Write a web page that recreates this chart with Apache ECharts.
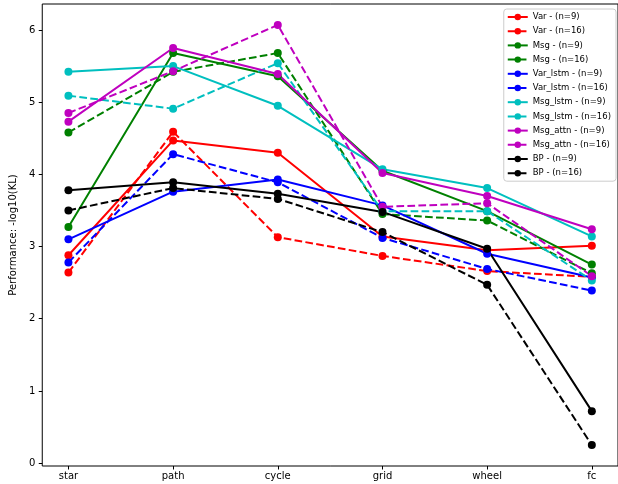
<!DOCTYPE html>
<html>
<head>
<meta charset="utf-8">
<script src="https://cdn.jsdelivr.net/npm/echarts@6/dist/echarts.min.js"></script>
<style>
  html, body { margin: 0; padding: 0; background: #fff; }
  #chart { width: 618px; height: 484px; }
</style>
</head>
<body>
<div id="chart"></div>
<script>
// graph types on the x axis
const categories = ['star', 'path', 'cycle', 'grid', 'wheel', 'fc']
const yTicks = [0, 1, 2, 3, 4, 5, 6]

// -log10(KL) per graph type
const var9 = [2.88, 4.47, 4.30, 3.14, 2.95, 3.01]
const var16 = [2.64, 4.59, 3.13, 2.87, 2.66, 2.58]
const msg9 = [3.27, 5.68, 5.36, 4.05, 3.49, 2.75]
const msg16 = [4.58, 5.42, 5.68, 3.45, 3.36, 2.63]
const varLstm9 = [3.10, 3.76, 3.93, 3.57, 2.90, 2.57]
const varLstm16 = [2.78, 4.28, 3.89, 3.12, 2.69, 2.39]
const msgLstm9 = [5.42, 5.50, 4.95, 4.07, 3.81, 3.14]
const msgLstm16 = [5.09, 4.91, 5.54, 3.49, 3.49, 2.53]
const msgAttn9 = [4.73, 5.75, 5.39, 4.02, 3.70, 3.24]
const msgAttn16 = [4.85, 5.43, 6.07, 3.55, 3.60, 2.59]
const bp9 = [3.78, 3.89, 3.73, 3.48, 2.97, 0.72]
const bp16 = [3.50, 3.81, 3.66, 3.20, 2.47, 0.25]

const lines = [
  { name: 'Var - (n=9)', color: '#ff0000', dashed: false, values: var9 },
  { name: 'Var - (n=16)', color: '#ff0000', dashed: true, values: var16 },
  { name: 'Msg - (n=9)', color: '#008000', dashed: false, values: msg9 },
  { name: 'Msg - (n=16)', color: '#008000', dashed: true, values: msg16 },
  { name: 'Var_lstm - (n=9)', color: '#0000ff', dashed: false, values: varLstm9 },
  { name: 'Var_lstm - (n=16)', color: '#0000ff', dashed: true, values: varLstm16 },
  { name: 'Msg_lstm - (n=9)', color: '#00bfbf', dashed: false, values: msgLstm9 },
  { name: 'Msg_lstm - (n=16)', color: '#00bfbf', dashed: true, values: msgLstm16 },
  { name: 'Msg_attn - (n=9)', color: '#bf00bf', dashed: false, values: msgAttn9 },
  { name: 'Msg_attn - (n=16)', color: '#bf00bf', dashed: true, values: msgAttn16 },
  { name: 'BP - (n=9)', color: '#000000', dashed: false, values: bp9 },
  { name: 'BP - (n=16)', color: '#000000', dashed: true, values: bp16 },
]

const fontFamily = 'DejaVu Sans'

const chart = echarts.init(document.getElementById('chart'), null, { renderer: 'canvas' })

chart.setOption({
  animation: false,
  textStyle: { fontFamily },
  grid: {
    left: 39, right: -2, top: 4, bottom: 18,
    show: true, borderColor: '#000', borderWidth: 1,
    backgroundColor: 'transparent',
  },
  legend: {
    orient: 'vertical',
    right: 2,
    top: 9,
    padding: [3, 5, 3, 3],
    itemWidth: 20,
    itemHeight: 8,
    itemGap: 4.2,
    backgroundColor: 'rgba(255,255,255,0.8)',
    borderColor: '#cccccc',
    borderWidth: 1,
    borderRadius: 3,
    textStyle: { fontSize: 8.5, lineHeight: 10, color: '#000', fontFamily },
    data: lines.map((l) => l.name),
  },
  xAxis: {
    type: 'value',
    min: -0.25,
    max: 5.25,
    axisLine: { show: false, onZero: false },
    splitLine: { show: false },
    axisTick: {
      show: true, length: 3.5, customValues: categories.map((_, i) => i),
      lineStyle: { color: '#000', width: 1 },
    },
    axisLabel: {
      customValues: categories.map((_, i) => i),
      formatter: (v) => categories[Math.round(v)] ?? '',
      fontSize: 10, color: '#000', margin: 5, fontFamily,
    },
  },
  yAxis: {
    type: 'value',
    min: -0.04,
    max: 6.36,
    name: 'Performance: -log10(KL)',
    nameLocation: 'middle',
    nameGap: 20,
    nameTextStyle: { fontSize: 10, color: '#000', fontFamily },
    axisLine: { show: false, onZero: false },
    splitLine: { show: false },
    axisTick: {
      show: true, length: 3.5, customValues: yTicks,
      lineStyle: { color: '#000', width: 1 },
    },
    axisLabel: {
      customValues: yTicks,
      fontSize: 10, color: '#000', margin: 7, fontFamily,
    },
  },
  series: lines.map((l) => ({
    type: 'line',
    name: l.name,
    data: l.values.map((v, i) => [i, v]),
    color: l.color,
    symbol: 'circle',
    symbolSize: 8,
    showSymbol: true,
    lineStyle: { width: 2, type: l.dashed ? [7.7, 3.3] : 'solid' },
    itemStyle: { color: l.color },
    emphasis: { disabled: true },
  })),
})
</script>
</body>
</html>
